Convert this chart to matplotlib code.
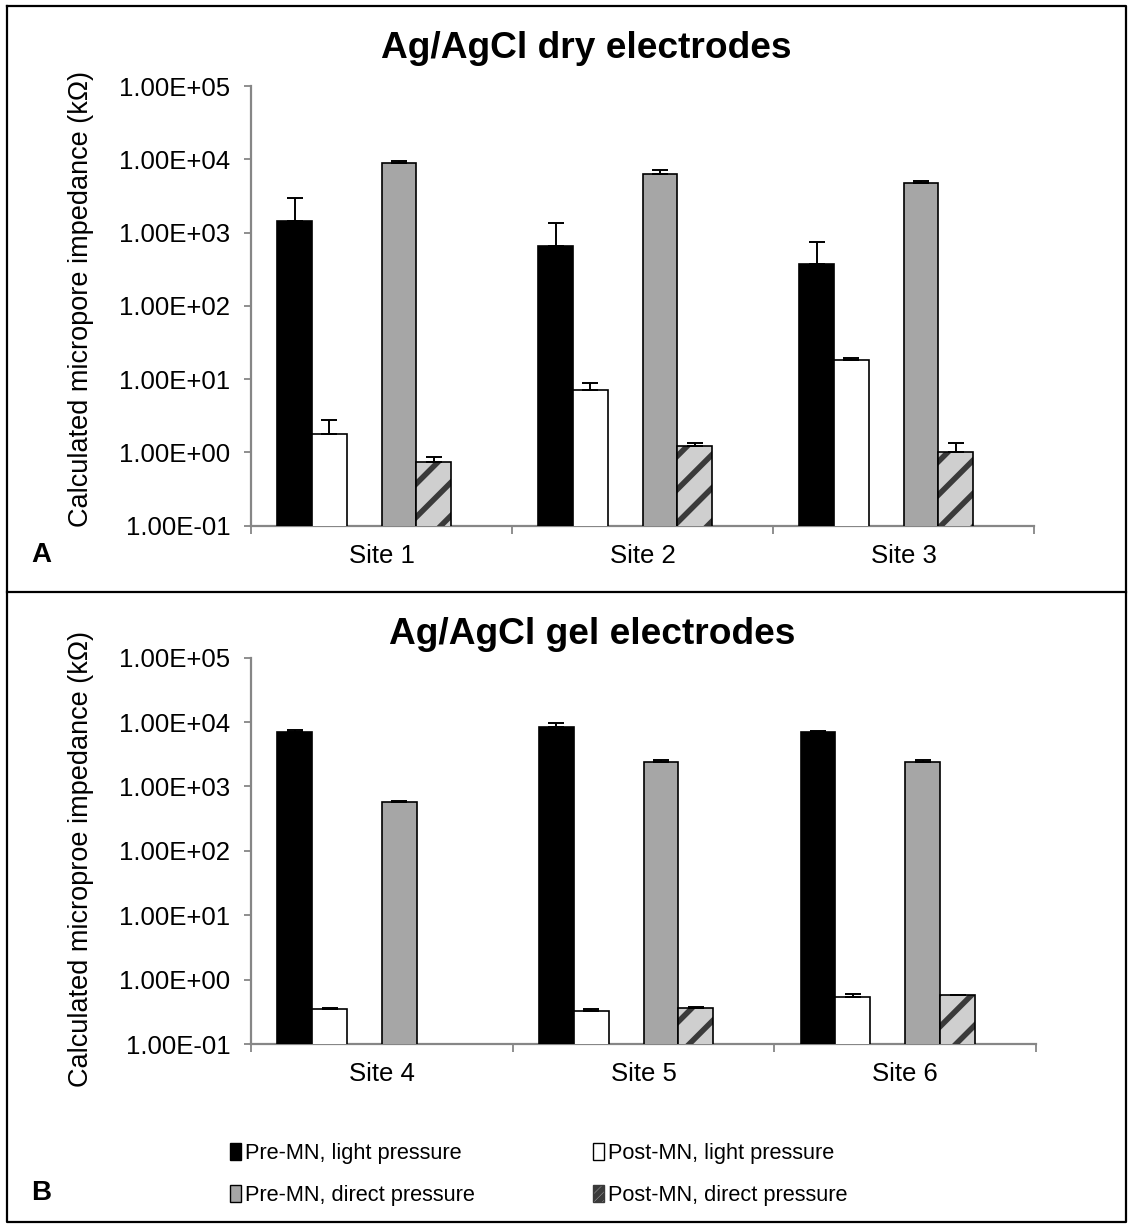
import matplotlib
matplotlib.use("Agg")
import matplotlib.pyplot as plt
import numpy as np
from matplotlib.patches import Patch
from matplotlib.ticker import FixedLocator, FuncFormatter, NullFormatter

plt.rcParams['font.family'] = ['Liberation Sans', 'DejaVu Sans']
plt.rcParams['hatch.linewidth'] = 4.0

# ---------------- data ----------------
sites_top = ["Site 1", "Site 2", "Site 3"]
sites_bot = ["Site 4", "Site 5", "Site 6"]
series_names = ["Pre-MN, light pressure", "Post-MN, light pressure",
                "Pre-MN, direct pressure", "Post-MN, direct pressure"]

# Panel A (dry electrodes), values in kOhm
dry_pre_light = [1440, 662, 372]
dry_post_light = [1.80, 7.18, 18.1]
dry_pre_direct = [9000, 6360, 4750]
dry_post_direct = [0.74, 1.235, 1.02]
dry_pre_light_err = [1500, 690, 380]
dry_post_light_err = [0.94, 1.6, 1.2]
dry_pre_direct_err = [560, 850, 350]
dry_post_direct_err = [0.12, 0.12, 0.31]

# Panel B (gel electrodes)
gel_pre_light = [7070, 8450, 7070]
gel_post_light = [0.350, 0.329, 0.531]
gel_pre_direct = [566, 2420, 2366]
gel_post_direct = [np.nan, 0.366, 0.577]
gel_pre_light_err = [450, 1300, 260]
gel_post_light_err = [0.017, 0.025, 0.066]
gel_pre_direct_err = [34, 180, 200]
gel_post_direct_err = [0.0, 0.005, 0.005]

yticks = [1e-1, 1e0, 1e1, 1e2, 1e3, 1e4, 1e5]

# ---------------- styling ----------------
colors = ["#000000", "#ffffff", "#a6a6a6", "#cfcfcf"]
slot = [0, 1, 3, 4]          # Excel-style slots (6 slots, 2 empty)
w = 1 / 7.5
axis_gray = "#868686"
FS = 18.5

W, H = 1128, 1226
fig = plt.figure(figsize=(W / 100, H / 100), dpi=100)


def fx(px):
    return px / W


def fy(py):
    return 1 - py / H


def draw_panel(ax, cats, vals, errs, ylabel, label_y):
    x = np.arange(len(cats))
    for k in range(4):
        pos = x - 0.4 + (slot[k] + 0.5) * w
        v = np.array(vals[k], dtype=float)
        e = np.array(errs[k], dtype=float)
        if k == 3:
            ax.bar(pos, v, width=w, bottom=0, color=colors[k], edgecolor="#3a3a3a",
                   hatch="/", linewidth=0, zorder=3)
            ax.bar(pos, v, width=w, facecolor="none", edgecolor="black",
                   linewidth=1.2, zorder=4)
        else:
            ax.bar(pos, v, width=w, color=colors[k], edgecolor="black",
                   linewidth=1.2, zorder=3)
        mask = ~np.isnan(v)
        ax.errorbar(pos[mask], v[mask], yerr=[np.zeros(mask.sum()), e[mask]],
                    fmt="none", ecolor="black", elinewidth=1.4, capsize=6,
                    capthick=1.4, zorder=5)
    ax.set_yscale("log")
    ax.set_ylim(1e-1, 1e5)
    ax.set_xlim(-0.5, len(cats) - 0.5)
    ax.yaxis.set_major_locator(FixedLocator(yticks))
    ax.yaxis.set_minor_locator(FixedLocator([]))
    ax.yaxis.set_major_formatter(FuncFormatter(lambda v, p: f"{v:.2E}"))
    ax.xaxis.set_major_locator(FixedLocator(np.arange(len(cats) + 1) - 0.5))
    ax.xaxis.set_major_formatter(NullFormatter())
    ax.xaxis.set_minor_locator(FixedLocator(x))
    ax.set_xticklabels(cats, minor=True)
    for s in ["top", "right"]:
        ax.spines[s].set_visible(False)
    for s in ["left", "bottom"]:
        ax.spines[s].set_color(axis_gray)
        ax.spines[s].set_linewidth(1.6)
    ax.tick_params(axis="y", which="major", length=5, width=1.3, color=axis_gray,
                   labelsize=FS, pad=10)
    ax.tick_params(axis="x", which="major", length=6, width=1.3, color=axis_gray)
    ax.tick_params(axis="x", which="minor", length=0, labelsize=FS, pad=13)
    ax.set_ylabel(ylabel, fontsize=19.5)
    ax.yaxis.set_label_coords(-0.2, label_y)


axA = fig.add_axes([fx(251), fy(525.7), fx(1034 - 251), (525.7 - 86) / H])
draw_panel(axA, sites_top,
           [dry_pre_light, dry_post_light, dry_pre_direct, dry_post_direct],
           [dry_pre_light_err, dry_post_light_err, dry_pre_direct_err, dry_post_direct_err],
           "Calculated micropore impedance (k\u03a9)", 0.515)

axB = fig.add_axes([fx(251), fy(1044), fx(1036 - 251), (1044 - 657.7) / H])
draw_panel(axB, sites_bot,
           [gel_pre_light, gel_post_light, gel_pre_direct, gel_post_direct],
           [gel_pre_light_err, gel_post_light_err, gel_pre_direct_err, gel_post_direct_err],
           "Calculated microproe impedance (k\u03a9)", 0.48)

# titles and panel letters
fig.text(fx(586), fy(48), "Ag/AgCl dry electrodes", ha="center", va="center",
         fontsize=26.7, fontweight="bold")
fig.text(fx(592), fy(635), "Ag/AgCl gel electrodes", ha="center", va="center",
         fontsize=26.7, fontweight="bold")
fig.text(fx(41), fy(555), "A", ha="center", va="center", fontsize=20, fontweight="bold")
fig.text(fx(41), fy(1193), "B", ha="center", va="center", fontsize=20, fontweight="bold")

# frame and divider
frame = plt.Line2D([fx(7), fx(1126), fx(1126), fx(7), fx(7)],
                   [fy(6), fy(6), fy(1222), fy(1222), fy(6)],
                   transform=fig.transFigure, color="black", linewidth=1.6)
fig.add_artist(frame)
div = plt.Line2D([fx(7), fx(1126)], [fy(592), fy(592)], transform=fig.transFigure,
                 color="black", linewidth=1.6)
fig.add_artist(div)

# legend
handles = [
    Patch(facecolor=colors[0], edgecolor="black", linewidth=1, label=series_names[0]),
    Patch(facecolor=colors[2], edgecolor="black", linewidth=1, label=series_names[2]),
    Patch(facecolor=colors[1], edgecolor="black", linewidth=1, label=series_names[1]),
    Patch(facecolor=colors[3], edgecolor="#3a3a3a", hatch="////", linewidth=1,
          label=series_names[3]),
]
fig.legend(handles=handles, ncol=2, loc="upper left",
           bbox_to_anchor=(fx(221), fy(1134)), frameon=False, fontsize=15.7,
           handlelength=0.5, handleheight=0.85, handletextpad=0.2,
           columnspacing=5.4, labelspacing=0.95, borderaxespad=0)

fig.savefig("out.png", dpi=100)
